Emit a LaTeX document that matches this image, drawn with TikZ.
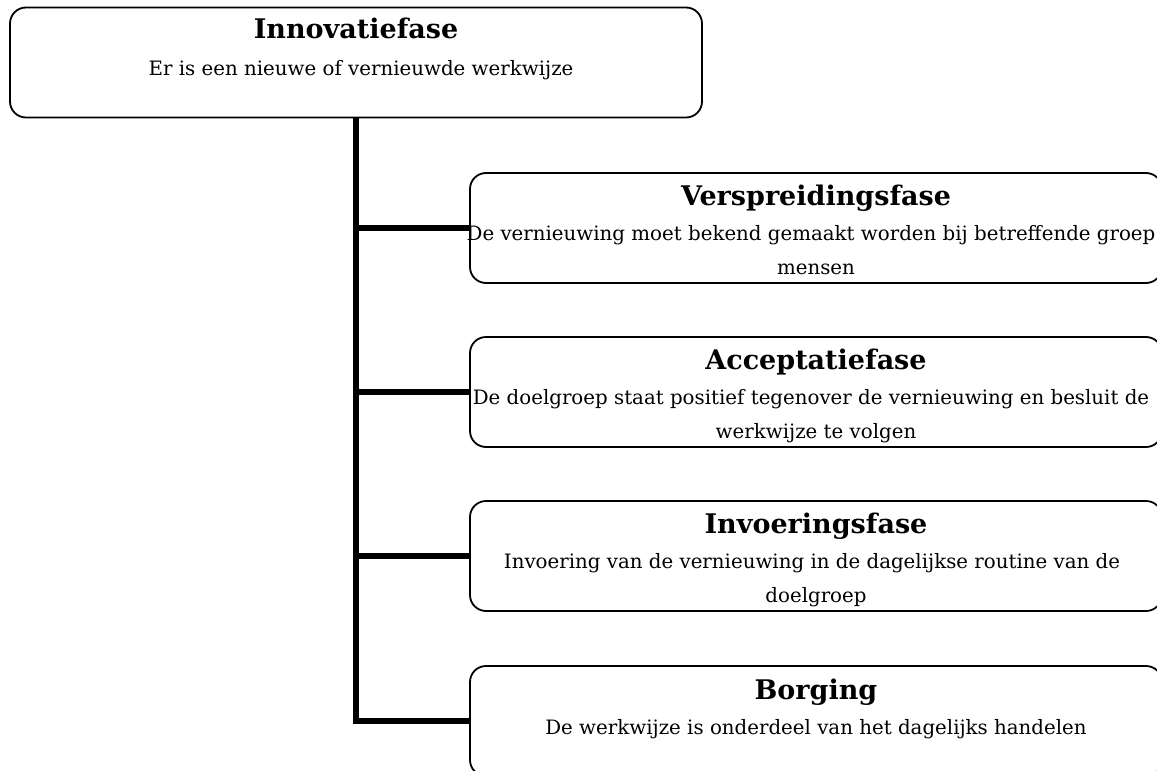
\documentclass[tikz,border=0pt]{standalone}
\usepackage{fontspec}
\setmainfont{DejaVu Serif}
\begin{document}
\begin{tikzpicture}[x=1pt,y=-1pt,
  box/.style={draw, line width=1.8pt, rounded corners=16pt, minimum width=692pt, minimum height=110pt, inner sep=0pt},
  conn/.style={line width=5.5pt},
  ttl/.style={font=\fontsize{27}{32}\selectfont\bfseries, anchor=base, inner sep=0pt},
  txt/.style={font=\fontsize{19.8}{23}\selectfont, anchor=base, inner sep=0pt}]
\useasboundingbox (0,0) rectangle (1157,771);
\clip (0,0) rectangle (1157,771);
% boxes
\node[box] (top) at (356,62.5) {};
\node[box] (b1) at (816,228) {};
\node[box] (b2) at (816,392) {};
\node[box] (b3) at (816,556) {};
\node[box] (b4) at (816,721) {};
% connectors
\draw[conn] (top.south) -- (top.south |- b4.west) -- (b4.west);
\foreach \b in {b1,b2,b3} \draw[conn] (top.south |- \b.west) -- (\b.west);
% texts
\node[ttl] (topT) at ([yshift=-32pt]top.north) {Innovatiefase};
\node[txt] (topL) at ([xshift=5pt,yshift=-69pt]top.north) {Er is een nieuwe of vernieuwde werkwijze};
\begin{scope}
\clip ([xshift=-10pt]b1.north west) rectangle ([xshift=10pt,yshift=5pt]b1.south east);
\node[ttl] (b1T) at ([yshift=-33pt]b1.north) {Verspreidingsfase};
\node[txt] (b1L1) at ([xshift=-5pt,yshift=-68pt]b1.north) {De vernieuwing moet bekend gemaakt worden bij betreffende groep};
\node[txt] (b1L2) at ([yshift=-102pt]b1.north) {mensen};
\end{scope}
\begin{scope}
\clip ([xshift=-10pt]b2.north west) rectangle ([xshift=10pt,yshift=5pt]b2.south east);
\node[ttl] (b2T) at ([yshift=-33pt]b2.north) {Acceptatiefase};
\node[txt] (b2L1) at ([xshift=-5pt,yshift=-68pt]b2.north) {De doelgroep staat positief tegenover de vernieuwing en besluit de};
\node[txt] (b2L2) at ([yshift=-102pt]b2.north) {werkwijze te volgen};
\end{scope}
\begin{scope}
\clip ([xshift=-10pt]b3.north west) rectangle ([xshift=10pt,yshift=5.5pt]b3.south east);
\node[ttl] (b3T) at ([yshift=-33pt]b3.north) {Invoeringsfase};
\node[txt] (b3L1) at ([xshift=-4pt,yshift=-68pt]b3.north) {Invoering van de vernieuwing in de dagelijkse routine van de};
\node[txt] (b3L2) at ([yshift=-102pt]b3.north) {doelgroep};
\end{scope}
\node[ttl] (b4T) at ([yshift=-34pt]b4.north) {Borging};
\node[txt] (b4L) at ([yshift=-69pt]b4.north) {De werkwijze is onderdeel van het dagelijks handelen};
\end{tikzpicture}
\end{document}
